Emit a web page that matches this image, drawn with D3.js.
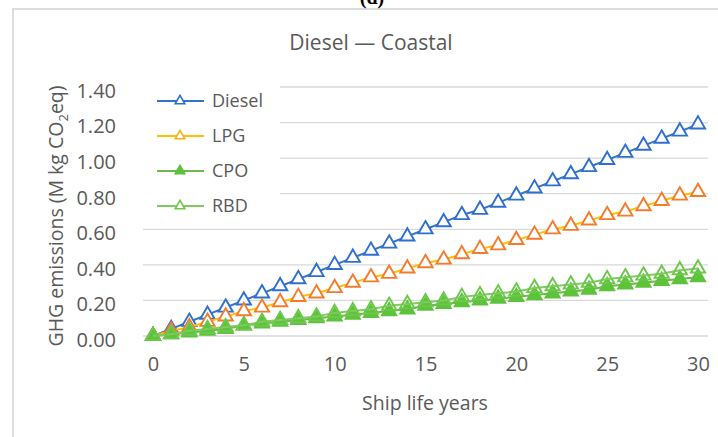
<!DOCTYPE html>
<html>
<head>
<meta charset="utf-8">
<script src="https://cdn.jsdelivr.net/npm/d3@7"></script>
<style>
  html, body { margin: 0; padding: 0; background: #fff; }
  svg { display: block; font-family: "Open Sans", "Noto Sans", sans-serif; }
</style>
</head>
<body>
<div id="chart"></div>
<script>
// ---- data ----
const years = [0,1,2,3,4,5,6,7,8,9,10,11,12,13,14,15,16,17,18,19,20,21,22,23,24,25,26,27,28,29,30];
const diesel = [0,0.04,0.08,0.12,0.16,0.20,0.24,0.28,0.32,0.36,0.40,0.44,0.48,0.52,0.56,0.60,0.64,0.68,0.71,0.75,0.79,0.83,0.87,0.91,0.95,0.99,1.03,1.07,1.11,1.15,1.19];
const lpg = [0,0.03,0.05,0.08,0.11,0.14,0.16,0.19,0.22,0.24,0.27,0.30,0.33,0.35,0.38,0.41,0.43,0.46,0.49,0.51,0.54,0.57,0.60,0.62,0.65,0.68,0.70,0.73,0.76,0.79,0.81];
const cpo = [0,0.01,0.02,0.03,0.04,0.06,0.07,0.08,0.09,0.10,0.11,0.12,0.13,0.14,0.15,0.17,0.18,0.19,0.20,0.21,0.22,0.23,0.24,0.25,0.26,0.28,0.29,0.30,0.31,0.32,0.33];
const rbd = [0,0.01,0.03,0.04,0.05,0.06,0.08,0.09,0.10,0.11,0.13,0.14,0.15,0.17,0.18,0.19,0.20,0.22,0.23,0.24,0.25,0.27,0.28,0.29,0.30,0.32,0.33,0.34,0.35,0.37,0.38];
const xTicks = [0,5,10,15,20,25,30];
const yTicks = [0,0.2,0.4,0.6,0.8,1.0,1.2,1.4];

const series = [
  { name: 'Diesel', values: diesel, line: '#3573C4', mark: '#2E6FD0', fill: '#fff',    lfill: '#fff' },
  { name: 'LPG',    values: lpg,    line: '#FFC000', mark: '#F47B2C', fill: '#fff',    lmark: '#F2B21A', lfill: '#fff' },
  { name: 'CPO',    values: cpo,    line: '#6DB847', mark: '#5CC33B', fill: '#5CC33B', lfill: '#5CC33B' },
  { name: 'RBD',    values: rbd,    line: '#80CB60', mark: '#6CC84B', fill: 'none',    lfill: '#fff' }
];

const W = 718, H = 437;
const textColor = '#595959';

const svg = d3.select('#chart').append('svg').attr('width', W).attr('height', H);

// outer frame (cut off at right and bottom)
svg.append('rect').attr('x', 13).attr('y', 9).attr('width', 760).attr('height', 480)
  .attr('fill', 'none').attr('stroke', '#dcdcdc').attr('stroke-width', 2);

// figure tag, mostly cropped like in the source
svg.append('text').attr('x', 372).attr('y', 4).attr('text-anchor', 'middle')
  .attr('font-family', '"Liberation Serif", serif').attr('font-weight', 'bold').attr('font-size', 20)
  .attr('fill', '#000').text('(d)');

// scales
const x = d3.scaleLinear().domain([0, 30]).range([153, 698]);
const y = d3.scaleLinear().domain([0, 1.4]).range([336, 87]);
const gridX0 = 143, gridX1 = 708;

// gridlines
svg.append('g').selectAll('line').data(yTicks).join('line')
  .attr('x1', gridX0).attr('x2', gridX1)
  .attr('y1', d => y(d)).attr('y2', d => y(d))
  .attr('stroke', '#d9d9d9').attr('stroke-width', 1.3);

// y axis labels
const yAxis = d3.axisLeft(y).tickValues(yTicks).tickFormat(d3.format('.2f')).tickSize(0).tickPadding(0);
svg.append('g').attr('transform', 'translate(116,4)').call(yAxis)
  .call(g => g.select('.domain').remove())
  .selectAll('text').attr('fill', textColor).attr('font-size', 20)
  .attr('font-family', '"Open Sans", sans-serif');

// x axis labels
const xAxis = d3.axisBottom(x).tickValues(xTicks).tickFormat(d3.format('d')).tickSize(0).tickPadding(0);
svg.append('g').attr('transform', 'translate(0,357)').call(xAxis)
  .call(g => g.select('.domain').remove())
  .selectAll('text').attr('fill', textColor).attr('font-size', 20)
  .attr('font-family', '"Open Sans", sans-serif');

// titles
svg.append('text').attr('x', 371).attr('y', 50).attr('text-anchor', 'middle')
  .attr('font-size', 21).attr('fill', textColor).text('Diesel — Coastal');

svg.append('text').attr('x', 425).attr('y', 410).attr('text-anchor', 'middle')
  .attr('font-size', 19.5).attr('fill', textColor).text('Ship life years');

const yTitle = svg.append('text').attr('transform', 'translate(63,216) rotate(-90)')
  .attr('text-anchor', 'middle').attr('font-size', 19.5).attr('fill', textColor);
yTitle.append('tspan').text('GHG emissions (M kg CO');
yTitle.append('tspan').attr('font-size', 13).attr('dy', 5).text('2');
yTitle.append('tspan').attr('dy', -5).text('eq)');

// series
const line = d3.line().x((d, i) => x(years[i])).y(d => y(d));
const tri = d3.symbol().type(d3.symbolTriangle).size(88);
const triSmall = d3.symbol().type(d3.symbolTriangle).size(40);

series.forEach(s => {
  const g = svg.append('g');
  g.append('path').datum(s.values).attr('d', line)
    .attr('fill', 'none').attr('stroke', s.line).attr('stroke-width', 2);
  g.selectAll('path.m').data(s.values).join('path').attr('class', 'm')
    .attr('d', tri)
    .attr('transform', (d, i) => `translate(${x(years[i])},${y(d)})`)
    .attr('fill', s.fill).attr('stroke', s.mark).attr('stroke-width', 1.9);
});

// legend (white box covering the gridlines)
const legend = svg.append('g');
legend.append('rect').attr('x', 142).attr('y', 80).attr('width', 138).attr('height', 140).attr('fill', '#fff');
series.forEach((s, i) => {
  const ly = 101 + i * 35;
  legend.append('line').attr('x1', 157).attr('x2', 204).attr('y1', ly).attr('y2', ly)
    .attr('stroke', s.line).attr('stroke-width', 2);
  legend.append('path').attr('d', triSmall).attr('transform', `translate(180,${ly})`)
    .attr('fill', s.lfill).attr('stroke', s.lmark || s.mark).attr('stroke-width', 1.6);
  legend.append('text').attr('x', 212).attr('y', ly).attr('dy', '0.35em')
    .attr('font-size', 18).attr('fill', textColor).text(s.name);
});
</script>
</body>
</html>
